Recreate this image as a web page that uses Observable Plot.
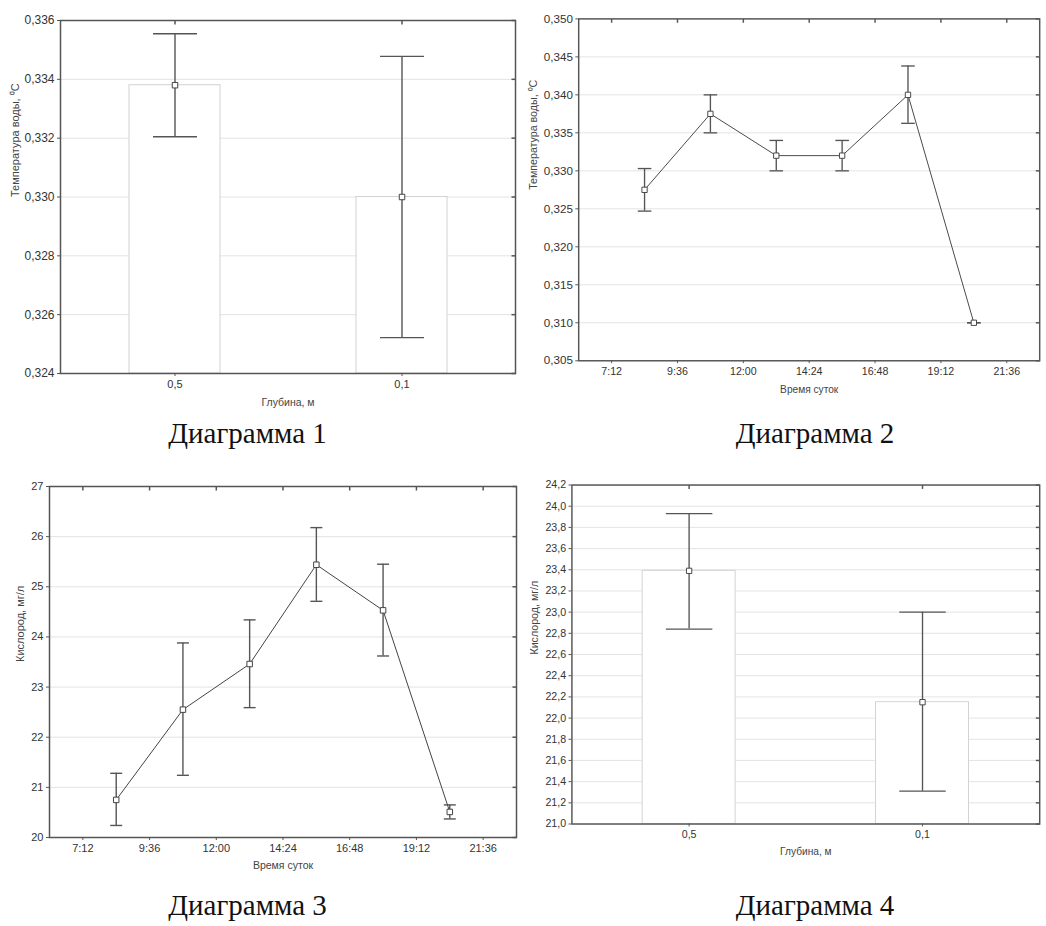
<!DOCTYPE html>
<html>
<head>
<meta charset="utf-8">
<script src="https://cdn.jsdelivr.net/npm/d3@7"></script>
<script src="https://cdn.jsdelivr.net/npm/@observablehq/plot@0.6"></script>
<style>
  html, body { margin: 0; padding: 0; background: #fff; overflow: hidden; }
  #root { position: relative; width: 1046px; height: 926px; overflow: hidden; background: #fff; }
  .panel { position: absolute; }
  .caption { position: absolute; width: 400px; text-align: center; font-family: "Liberation Serif", "Times New Roman", serif; font-size: 29px; line-height: 1; color: #111; white-space: nowrap; }
</style>
</head>
<body>
<div id="root"></div>
<script>
// ---------- DATA ----------
// Diagram 1: water temperature by depth
const depthLabels = ["0,5", "0,1"];
const temp1Mean  = [0.3338, 0.3300];
const temp1Upper = [0.33555, 0.33478];
const temp1Lower = [0.33205, 0.32522];
const temp1Domain = [0.324, 0.336];
const temp1Ticks = [0.324, 0.326, 0.328, 0.330, 0.332, 0.334, 0.336];

// Diagram 2: water temperature by time of day
const timeLabels = ["8:24", "10:48", "13:12", "15:36", "18:00", "20:24"];
const temp2Mean  = [0.3275, 0.3375, 0.3320, 0.3320, 0.3400, 0.3100];
const temp2Upper = [0.3303, 0.3400, 0.3340, 0.3340, 0.3438, 0.3100];
const temp2Lower = [0.3247, 0.3350, 0.3300, 0.3300, 0.33625, 0.3100];
const temp2Domain = [0.305, 0.350];
const temp2Ticks = [0.305, 0.310, 0.315, 0.320, 0.325, 0.330, 0.335, 0.340, 0.345, 0.350];

// Diagram 3: oxygen by time of day
const oxy3Mean  = [20.75, 22.55, 23.46, 25.44, 24.53, 20.51];
const oxy3Upper = [21.28, 23.88, 24.34, 26.18, 25.45, 20.65];
const oxy3Lower = [20.24, 21.24, 22.59, 24.71, 23.62, 20.37];
const oxy3Domain = [20, 27];
const oxy3Ticks = [20, 21, 22, 23, 24, 25, 26, 27];

// Diagram 4: oxygen by depth
const oxy4Mean  = [23.39, 22.15];
const oxy4Upper = [23.93, 23.00];
const oxy4Lower = [22.84, 21.31];
const oxy4Domain = [21.0, 24.2];
const oxy4Ticks = [21.0, 21.2, 21.4, 21.6, 21.8, 22.0, 22.2, 22.4, 22.6, 22.8, 23.0, 23.2, 23.4, 23.6, 23.8, 24.0, 24.2];

// Time axis
const timeTickLabels = ["7:12", "9:36", "12:00", "14:24", "16:48", "19:12", "21:36"];
const timeDomainLabels = ["6:00", "22:48"];

// Texts
const tempLabel = "Температура воды, \u2070C";
const oxyLabel = "Кислород, мг/л";
const depthAxisLabel = "Глубина, м";
const timeAxisLabel = "Время суток";
const captions = ["Диаграмма 1", "Диаграмма 2", "Диаграмма 3", "Диаграмма 4"];

// ---------- HELPERS ----------
const toMin = s => { const [h, m] = s.split(":").map(Number); return h * 60 + m; };
const fmtTime = m => `${Math.floor(m / 60)}:${String(Math.round(m % 60)).padStart(2, "0")}`;
const comma = f => v => d3.format(f)(v).replace(".", ",");

const capSym = { draw(ctx, size) { const w = Math.sqrt(size / Math.PI); ctx.moveTo(-w, 0); ctx.lineTo(w, 0); } };
const tickDownSym = { draw(ctx) { ctx.moveTo(0, 0); ctx.lineTo(0, 4); } };
const tickInLeftSym = { draw(ctx) { ctx.moveTo(0, 0); ctx.lineTo(-4, 0); } };

const FONT = "'Liberation Sans', Arial, sans-serif";
const INK = "#555";

const timeTicks = timeTickLabels.map(toMin);
const timeDomain = timeDomainLabels.map(toMin);

function barPanel({data, yDomain, yTicks, yFmt, yLabel, width, height, margins, capR, yLabelDx, xLabelDy, yFont}) {
  return Plot.plot({
    width, height,
    marginLeft: margins[0], marginRight: margins[1], marginTop: margins[2], marginBottom: margins[3],
    style: {fontFamily: FONT, color: "#333", background: "transparent", overflow: "visible"},
    x: {type: "band", domain: depthLabels, paddingInner: 0.6, paddingOuter: 0.3, align: 0.5},
    y: {domain: yDomain},
    marks: [
      Plot.gridY({ticks: yTicks, stroke: "#e3e3e3", strokeOpacity: 1}),
      Plot.barY(data, {x: "depth", y1: () => yDomain[0], y2: "mean", fill: "white", stroke: "#d2d2d2", strokeWidth: 1}),
      Plot.ruleX(data, {x: "depth", y1: "lower", y2: "upper", stroke: INK, strokeWidth: 1.4}),
      Plot.dot(data, {x: "depth", y: "upper", symbol: capSym, r: capR, fill: "none", stroke: INK, strokeWidth: 1.4}),
      Plot.dot(data, {x: "depth", y: "lower", symbol: capSym, r: capR, fill: "none", stroke: INK, strokeWidth: 1.4}),
      Plot.dot(data, {x: "depth", y: "mean", symbol: "square", r: 3.1, fill: "white", stroke: "#444", strokeWidth: 1}),
      Plot.dot(depthLabels, {x: d => d, frameAnchor: "top", symbol: tickDownSym, fill: "none", stroke: INK}),
      Plot.dot(yTicks, {y: d => d, frameAnchor: "right", symbol: tickInLeftSym, fill: "none", stroke: INK}),
      Plot.frame({stroke: INK, strokeWidth: 1.5}),
      Plot.axisY({ticks: yTicks, tickFormat: yFmt, tickSize: 3, tickPadding: 3, fontSize: yFont, label: null, stroke: INK}),
      Plot.axisX({tickSize: 3, tickPadding: 4, fontSize: 11, label: null, stroke: INK}),
      Plot.text([depthAxisLabel], {text: d => d, frameAnchor: "bottom", dy: xLabelDy, fontSize: 10.5, fill: "#444"}),
      Plot.text([yLabel], {text: d => d, frameAnchor: "left", dx: yLabelDx, rotate: -90, fontSize: 11, fill: "#444"})
    ]
  });
}

function timePanel({data, yDomain, yTicks, yFmt, yLabel, width, height, margins, capR, yLabelDx, xLabelDy, yFont}) {
  return Plot.plot({
    width, height,
    marginLeft: margins[0], marginRight: margins[1], marginTop: margins[2], marginBottom: margins[3],
    style: {fontFamily: FONT, color: "#333", background: "transparent", overflow: "visible"},
    x: {domain: timeDomain},
    y: {domain: yDomain},
    marks: [
      Plot.gridY({ticks: yTicks, stroke: "#e3e3e3", strokeOpacity: 1}),
      Plot.ruleX(data, {x: "t", y1: "lower", y2: "upper", stroke: INK, strokeWidth: 1.4}),
      Plot.dot(data, {x: "t", y: "upper", symbol: capSym, r: capR, fill: "none", stroke: INK, strokeWidth: 1.4}),
      Plot.dot(data, {x: "t", y: "lower", symbol: capSym, r: capR, fill: "none", stroke: INK, strokeWidth: 1.4}),
      Plot.line(data, {x: "t", y: "mean", stroke: "#444", strokeWidth: 1}),
      Plot.dot(data, {x: "t", y: "mean", symbol: "square", r: 3.1, fill: "white", stroke: "#444", strokeWidth: 1}),
      Plot.dot(timeTicks, {x: d => d, frameAnchor: "top", symbol: tickDownSym, fill: "none", stroke: INK}),
      Plot.dot(yTicks, {y: d => d, frameAnchor: "right", symbol: tickInLeftSym, fill: "none", stroke: INK}),
      Plot.frame({stroke: INK, strokeWidth: 1.5}),
      Plot.axisY({ticks: yTicks, tickFormat: yFmt, tickSize: 3, tickPadding: 3, fontSize: yFont, label: null, stroke: INK}),
      Plot.axisX({ticks: timeTicks, tickFormat: fmtTime, tickSize: 3, tickPadding: 4, fontSize: 11, label: null, stroke: INK}),
      Plot.text([timeAxisLabel], {text: d => d, frameAnchor: "bottom", dy: xLabelDy, fontSize: 10.5, fill: "#444"}),
      Plot.text([yLabel], {text: d => d, frameAnchor: "left", dx: yLabelDx, rotate: -90, fontSize: 11, fill: "#444"})
    ]
  });
}

const d1 = depthLabels.map((depth, i) => ({depth, mean: temp1Mean[i], upper: temp1Upper[i], lower: temp1Lower[i]}));
const d2 = timeLabels.map((s, i) => ({t: toMin(s), mean: temp2Mean[i], upper: temp2Upper[i], lower: temp2Lower[i]}));
const d3data = timeLabels.map((s, i) => ({t: toMin(s), mean: oxy3Mean[i], upper: oxy3Upper[i], lower: oxy3Lower[i]}));
const d4 = depthLabels.map((depth, i) => ({depth, mean: oxy4Mean[i], upper: oxy4Upper[i], lower: oxy4Lower[i]}));

const root = document.getElementById("root");
function place(node, left, top) {
  const div = document.createElement("div");
  div.className = "panel";
  div.style.left = left + "px";
  div.style.top = top + "px";
  div.appendChild(node);
  root.appendChild(div);
}

place(barPanel({data: d1, yDomain: temp1Domain, yTicks: temp1Ticks, yFmt: comma(".3f"), yLabel: tempLabel,
  width: 523, height: 420, margins: [60, 8, 20, 47], capR: 22, yLabelDx: -45, xLabelDy: 32, yFont: 12}), 0, 0);

place(timePanel({data: d2, yDomain: temp2Domain, yTicks: temp2Ticks, yFmt: comma(".3f"), yLabel: tempLabel,
  width: 540, height: 420, margins: [57, 7, 19, 48], capR: 7, yLabelDx: -47, xLabelDy: 33, yFont: 12}), 523, 0);

place(timePanel({data: d3data, yDomain: oxy3Domain, yTicks: oxy3Ticks, yFmt: d3.format("d"), yLabel: oxyLabel,
  width: 523, height: 440, margins: [49, 7, 46, 43], capR: 6, yLabelDx: -29, xLabelDy: 31, yFont: 11}), 0, 440);

place(barPanel({data: d4, yDomain: oxy4Domain, yTicks: oxy4Ticks, yFmt: comma(".1f"), yLabel: oxyLabel,
  width: 540, height: 440, margins: [50, 7, 46, 44], capR: 24, yLabelDx: -39, xLabelDy: 32, yFont: 11}), 523, 440);

// Captions
const capPos = [[247.5, 419], [815, 419], [247.5, 891], [815, 891]];
captions.forEach((c, i) => {
  const div = document.createElement("div");
  div.className = "caption";
  div.textContent = c;
  div.style.left = (capPos[i][0] - 200) + "px";
  div.style.top = capPos[i][1] + "px";
  root.appendChild(div);
});
</script>
</body>
</html>
